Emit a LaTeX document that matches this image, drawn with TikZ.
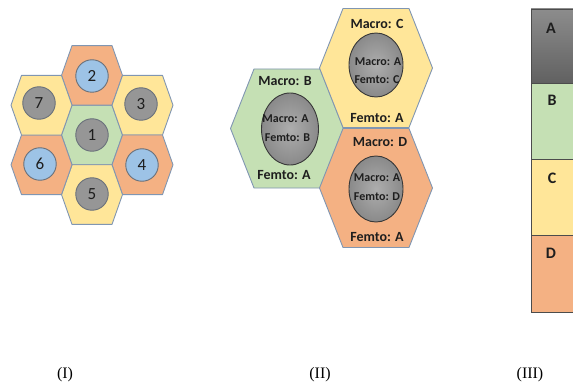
\documentclass[tikz,border=0pt]{standalone}
\usepackage{fontspec}
\setmainfont{Liberation Serif}
\newfontfamily\calib{Carlito}
\usetikzlibrary{shapes.geometric}
\definecolor{orangeC}{RGB}{244,177,131}
\definecolor{yellowC}{RGB}{255,230,153}
\definecolor{greenC}{RGB}{197,224,180}
\definecolor{blueC}{RGB}{157,195,230}
\definecolor{grayC}{RGB}{150,150,150}
\definecolor{hexEdge}{RGB}{128,150,178}
\definecolor{ringC}{RGB}{105,112,122}
\definecolor{txtC}{RGB}{30,30,30}
\newcommand\hexshape[6]{%
  \filldraw[hexline, fill=#6] (#1-#3,#2) -- (#1-#4,#2-#5) -- (#1+#4,#2-#5)
    -- (#1+#3,#2) -- (#1+#4,#2+#5) -- (#1-#4,#2+#5) -- cycle;}
\tikzset{
  hexline/.style={draw=hexEdge, line width=0.9pt, line join=round},
  cellI/.style={circle, draw=ringC, line width=0.9pt, minimum size=32.5pt, inner sep=0pt,
    font=\calib\fontsize{17}{17}\selectfont, text=txtC},
  ell/.style={ellipse, draw=black!78, line width=0.9pt, inner sep=0pt,
    inner color=black!32, outer color=black!46},
  inlab/.style={font=\calib\bfseries\fontsize{12}{12}\selectfont, text=txtC, inner sep=0pt},
  lab/.style={font=\calib\bfseries\fontsize{14}{14}\selectfont, text=txtC, inner sep=0pt},
  boxlab/.style={font=\calib\bfseries\fontsize{16}{16}\selectfont, text=txtC, inner sep=0pt},
  boxIII/.style={draw=black!70, line width=0.7pt},
  captxt/.style={font=\fontsize{16}{16}\selectfont, inner sep=0pt}
}
\begin{document}
\begin{tikzpicture}[x=1pt,y=-1pt]
\useasboundingbox (0,0) rectangle (573,385);
% ---------- Panel I ----------
\hexshape{92}{135}{30.5}{20}{29.8}{greenC}
\hexshape{92}{75.4}{30.5}{20}{29.8}{orangeC}
\hexshape{142.5}{105.2}{30.5}{20}{29.8}{yellowC}
\hexshape{142.5}{164.8}{30.5}{20}{29.8}{orangeC}
\hexshape{92}{194.6}{30.5}{20}{29.8}{yellowC}
\hexshape{41.5}{164.8}{30.5}{20}{29.8}{orangeC}
\hexshape{41.5}{105.2}{30.5}{20}{29.8}{yellowC}
\node[cellI, fill=grayC] (c1) at (92,135) {1};
\node[cellI, fill=blueC] (c2) at (92,76) {2};
\node[cellI, fill=grayC] (c3) at (141,104) {3};
\node[cellI, fill=blueC] (c4) at (142,165) {4};
\node[cellI, fill=grayC] (c5) at (92,194) {5};
\node[cellI, fill=blueC] (c6) at (40,164) {6};
\node[cellI, fill=grayC] (c7) at (39,103) {7};
% ---------- Panel II ----------
\hexshape{287}{128.5}{56.5}{33}{59.5}{greenC}
\hexshape{376}{68}{56.5}{33}{59.5}{yellowC}
\hexshape{376}{188}{56.5}{33}{59.5}{orangeC}
\node[lab] (mC) at (377,24) {Macro: C};
\node[ell, minimum width=54pt, minimum height=64pt] (eC) at (376,65) {};
\node[inlab] (eCm) at (378,62) {Macro: A};
\node[inlab] (eCf) at (377,80) {Femto: C};
\node[lab] (fC) at (377,118) {Femto: A};
\node[lab] (mB) at (285,81) {Macro: B};
\node[ell, minimum width=57pt, minimum height=72pt] (eB) at (290,129) {};
\node[inlab] (eBm) at (285.5,119) {Macro: A};
\node[inlab] (eBf) at (287.5,138) {Femto: B};
\node[lab] (fB) at (284,175) {Femto: A};
\node[lab] (mD) at (380,142) {Macro: D};
\node[ell, minimum width=54pt, minimum height=66pt] (eD) at (376,189) {};
\node[inlab] (eDm) at (377,178) {Macro: A};
\node[inlab] (eDf) at (377,197) {Femto: D};
\node[lab] (fD) at (377,237) {Femto: A};
% ---------- Panel III ----------
\begin{scope}
\clip (0,0) rectangle (573,385);
\path[boxIII, top color=black!45, bottom color=black!62] (531,9) rectangle (600,83);
\path[boxIII, fill=greenC] (531,83) rectangle (600,159);
\path[boxIII, fill=yellowC] (531,159) rectangle (600,235);
\path[boxIII, fill=orangeC] (531,235) rectangle (600,312);
\end{scope}
\node[boxlab] (bA) at (551,28) {A};
\node[boxlab] (bB) at (552,100) {B};
\node[boxlab] (bC) at (552,178) {C};
\node[boxlab] (bD) at (551,253) {D};
% ---------- captions ----------
\node[captxt] (capI) at (65,375) {(I)};
\node[captxt] (capII) at (320,375) {(II)};
\node[captxt] (capIII) at (530,375) {(III)};
\end{tikzpicture}
\end{document}
